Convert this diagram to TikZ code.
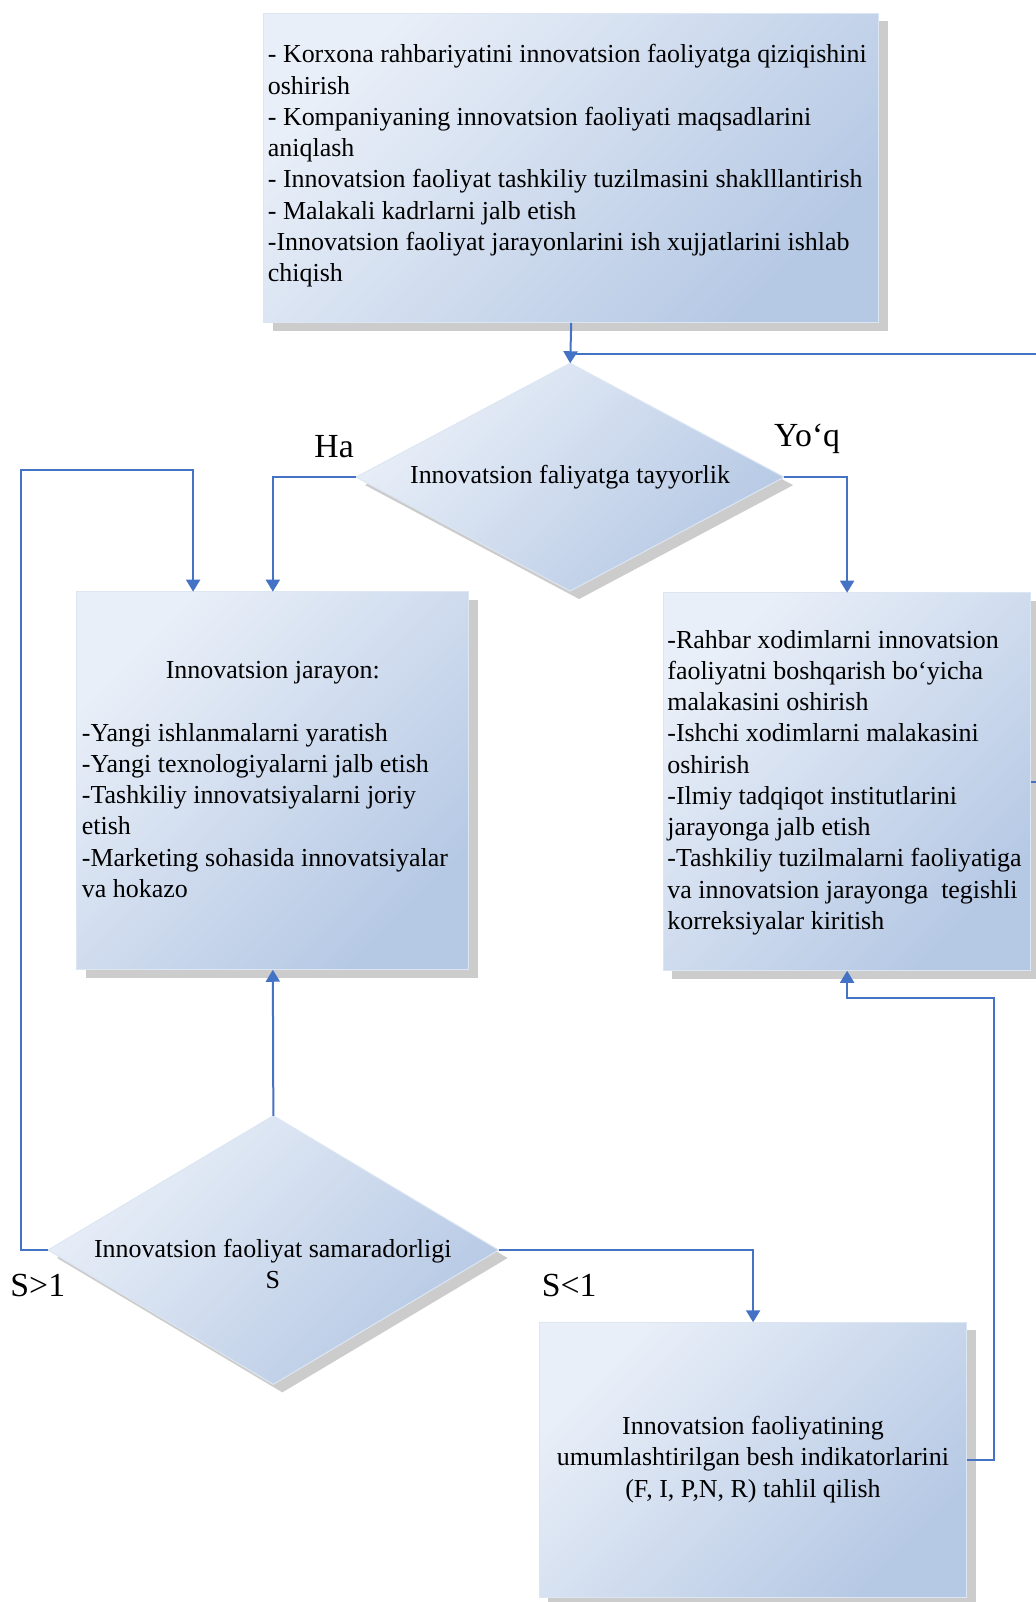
\documentclass[tikz,border=0pt]{standalone}
\usepackage{fontspec}
\setmainfont{Liberation Serif}
\usetikzlibrary{shapes.geometric,arrows.meta,shadows,calc}
\definecolor{lightbl}{RGB}{233,239,248}
\definecolor{darkbl}{RGB}{181,200,228}
\definecolor{edgecol}{RGB}{220,230,243}
\definecolor{shadowgr}{RGB}{204,204,204}
\definecolor{arrowbl}{RGB}{68,114,196}
\begin{document}
\begin{tikzpicture}[x=1pt,y=-1pt,scale=1.0217,every node/.append style={transform shape},
  shadebox/.style={draw=edgecol, line width=1pt, top color=lightbl, bottom color=darkbl, shading angle=45,
    general shadow={fill=shadowgr, shadow xshift=9pt, shadow yshift=-8pt}, inner sep=0pt, outer sep=0pt},
  boxnode/.style={shadebox, rectangle},
  decision/.style={shadebox, diamond},
  arr/.style={draw=arrowbl, line width=2pt, -{Triangle[length=12pt,width=14pt]}},
  plainline/.style={draw=arrowbl, line width=2pt},
  txt/.style={font=\fontsize{25.4}{30.6}\selectfont, inner sep=0pt, align=left, anchor=north west},
  ctxt/.style={font=\fontsize{25.4}{30.6}\selectfont, inner sep=0pt, align=center, anchor=center},
  lbl/.style={font=\fontsize{33}{38}\selectfont, inner sep=0pt, anchor=center}]
\useasboundingbox (0,0) rectangle (1014,1568);

% shapes
\node[boxnode, minimum width=602pt, minimum height=303pt] (top) at (559,164.5) {};
\node[decision, minimum width=419pt, minimum height=223pt] (d1) at (558,467) {};
\node[boxnode, minimum width=384pt, minimum height=370pt] (L) at (267,764) {};
\node[boxnode, minimum width=360pt, minimum height=370pt] (R) at (829,765) {};
\node[decision, minimum width=441pt, minimum height=263pt] (d2) at (267.5,1223.5) {};
\node[boxnode, minimum width=418pt, minimum height=270pt] (B) at (737,1429) {};

% texts
\node[txt] (ttop) at (262,43.5) {- Korxona rahbariyatini innovatsion faoliyatga qiziqishini\\oshirish\\- Kompaniyaning innovatsion faoliyati maqsadlarini\\aniqlash\\- Innovatsion faoliyat tashkiliy tuzilmasini shaklllantirish\\- Malakali kadrlarni jalb etish\\-Innovatsion faoliyat jarayonlarini ish xujjatlarini ishlab\\chiqish};
\node[ctxt] (td1) at (558,467) {Innovatsion faliyatga tayyorlik};
\node[ctxt] (tLh) at (267,658) {Innovatsion jarayon:};
\node[txt] (tL) at (80,707.5) {-Yangi ishlanmalarni yaratish\\-Yangi texnologiyalarni jalb etish\\-Tashkiliy innovatsiyalarni joriy\\etish\\-Marketing sohasida innovatsiyalar\\va hokazo};
\node[txt] (tR) at (653,616.5) {-Rahbar xodimlarni innovatsion\\faoliyatni boshqarish bo‘yicha\\malakasini oshirish\\-Ishchi xodimlarni malakasini\\oshirish\\-Ilmiy tadqiqot institutlarini\\jarayonga jalb etish\\-Tashkiliy tuzilmalarni faoliyatiga\\va innovatsion jarayonga\ \ tegishli\\korreksiyalar kiritish};
\node[ctxt] (td2) at (267,1237) {Innovatsion faoliyat samaradorligi\\S};
\node[ctxt] (tB) at (737,1428.5) {Innovatsion faoliyatining\\umumlashtirilgan besh indikatorlarini\\(F, I, P,N, R) tahlil qilish};

% labels
\node[lbl] (ha) at (327,437) {Ha};
\node[lbl] (yoq) at (790,430) {Yo‘q};
\node[lbl] (sgt) at (37,1258) {S>1};
\node[lbl] (slt) at (557,1258) {S<1};

% connectors
\coordinate (jn) at (558,346);
\coordinate (loopL) at (21,460);
\coordinate (loopR) at (973,977);
\coordinate (offR) at (1040,346);
\draw[arr] (top.south) -- (d1.north);
\draw[plainline] (R.east |- 0,765) -| (offR) -- (jn);
\draw[arr] (d1.west) -| (L.north);
\draw[arr] (d1.east) -| (R.north);
\draw[arr] (d2.north) -- (L.south);
\draw[arr] (d2.west) -| (loopL) -| ($(L.north west)+(114,0)$);
\draw[arr] (d2.east) -| (B.north);
\draw[arr] (B.east) -| (loopR) -| (R.south);
\end{tikzpicture}
\end{document}
